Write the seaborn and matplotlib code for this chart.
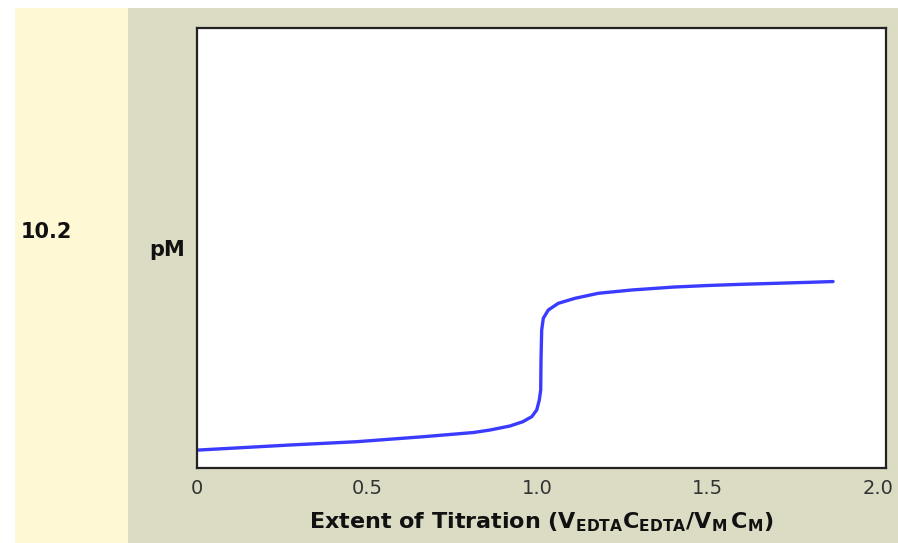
import numpy as np
import pandas as pd
import matplotlib
matplotlib.use("Agg")
import matplotlib.pyplot as plt
import seaborn as sns
from matplotlib.patches import Rectangle

# Curve (extent of titration vs pM, arbitrary pM scale)
extent = [0.0, 0.273, 0.469, 0.665, 0.812, 0.860, 0.919, 0.957, 0.983,
          0.9977, 1.0053, 1.0094, 1.0103, 1.0123, 1.017, 1.0317, 1.0611,
          1.1101, 1.1786, 1.2767, 1.4, 1.5, 1.6, 1.7, 1.8, 1.868]
pM = [1.65, 1.836, 1.956, 2.138, 2.29, 2.38, 2.527, 2.684, 2.865,
      3.109, 3.473, 3.836, 4.927, 6.018, 6.444, 6.745, 6.989,
      7.171, 7.353, 7.473, 7.58, 7.636, 7.68, 7.716, 7.753, 7.78]
xticks = [0, 0.5, 1.0, 1.5, 2.0]
xtick_labels = ["0", "0.5", "1.0", "1.5", "2.0"]
side_label = "10.2"

df = pd.DataFrame({"extent": extent, "pM": pM})

sns.set_style("white")
plt.rcParams["font.family"] = ["DejaVu Sans"]

W, H = 898, 543
fig = plt.figure(figsize=(W / 100, H / 100), dpi=100)
fig.patch.set_facecolor("white")

# background panels
fig.patches.append(Rectangle((15 / W, 0), (128 - 15) / W, (H - 8) / H,
                             transform=fig.transFigure, facecolor="#fff8d4",
                             edgecolor="none", zorder=-10))
fig.patches.append(Rectangle((128 / W, 0), (W - 128) / W, (H - 8) / H,
                             transform=fig.transFigure, facecolor="#dcdcc4",
                             edgecolor="none", zorder=-10))

left, right, top, bottom = 197, 886, 28, 468
ax = fig.add_axes([left / W, (H - bottom) / H, (right - left) / W, (bottom - top) / H])
ax.set_facecolor("white")

sns.lineplot(data=df, x="extent", y="pM", ax=ax, color="#3b3bff",
             linewidth=2.4, estimator=None, sort=False)

ax.set_xlim(0, 2.0235)
ax.set_ylim(1, 17)
ax.set_xticks(xticks)
ax.set_xticklabels(xtick_labels)
ax.set_yticks([])
ax.tick_params(axis="x", direction="in", length=5, width=1.2, color="#222222",
               labelsize=14, labelcolor="#333333", pad=8)
for s in ax.spines.values():
    s.set_color("#222222")
    s.set_linewidth(1.6)

ax.set_xlabel(r"Extent of Titration ($\mathbf{V_{EDTA}C_{EDTA}/V_M\,C_M}$)",
              fontsize=16, fontweight="bold", color="#111111", labelpad=9)
ax.set_ylabel("")

fig.text(167 / W, 1 - 250 / H, "pM", fontsize=15, fontweight="bold",
         ha="center", va="center", color="#111111")
fig.text(21 / W, 1 - 232 / H, side_label, fontsize=15, fontweight="bold",
         ha="left", va="center", color="#111111")

fig.savefig("out.png", dpi=100)
